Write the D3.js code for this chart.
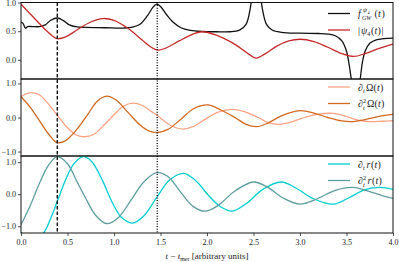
<!DOCTYPE html>
<html>
<head>
<meta charset="utf-8">
<script src="https://cdn.jsdelivr.net/npm/d3@7"></script>
<style>
  body { margin: 0; background: #fff; }
  svg { display: block; }
  text { font-family: "Liberation Serif", "DejaVu Serif", serif; fill: #222; }
</style>
</head>
<body>
<div id="chart"></div>
<script>
// time axis ticks
var xTicks = [0, 0.5, 1, 1.5, 2, 2.5, 3, 3.5, 4];
var markT = [0.39, 1.465]; // dashed, dotted

// top panel: frequency and |psi4|
var fgwT = [0, 0.02, 0.04, 0.05, 0.07, 0.12, 0.2, 0.26, 0.32, 0.39, 0.46, 0.52, 0.6, 0.7, 0.9, 1.1, 1.2, 1.28, 1.36, 1.42, 1.46, 1.5, 1.56, 1.64, 1.72, 1.82, 1.95, 2.1, 2.25, 2.35, 2.42, 2.46, 2.49, 2.51, 2.53, 2.55, 2.57, 2.6, 2.64, 2.7, 2.8, 3.0, 3.2, 3.3, 3.38, 3.45, 3.5, 3.53, 3.56, 3.6, 3.64, 3.67, 3.7, 3.75, 3.82, 3.9, 4.0];
var fgwV = [0.66, 0.64, 0.57, 0.55, 0.58, 0.58, 0.58, 0.61, 0.69, 0.73, 0.68, 0.61, 0.575, 0.565, 0.56, 0.555, 0.57, 0.62, 0.77, 0.92, 0.97, 0.93, 0.8, 0.65, 0.56, 0.515, 0.495, 0.49, 0.49, 0.52, 0.62, 0.85, 1.2, 1.6, 2.0, 1.6, 1.2, 0.85, 0.62, 0.52, 0.48, 0.465, 0.46, 0.45, 0.42, 0.33, 0.15, -0.1, -0.4, -0.6, -0.4, -0.05, 0.15, 0.29, 0.35, 0.37, 0.38];

var psiT = [0, 0.1, 0.2, 0.3, 0.39, 0.48, 0.6, 0.75, 0.88, 1.0, 1.15, 1.3, 1.4, 1.47, 1.55, 1.7, 1.85, 1.95, 2.1, 2.3, 2.45, 2.53, 2.62, 2.75, 2.88, 3.0, 3.15, 3.3, 3.45, 3.58, 3.7, 3.85, 4.0];
var psiV = [0.97, 0.8, 0.63, 0.47, 0.37, 0.4, 0.52, 0.66, 0.72, 0.69, 0.55, 0.35, 0.22, 0.17, 0.2, 0.33, 0.45, 0.49, 0.43, 0.27, 0.1, 0.03, 0.1, 0.24, 0.33, 0.36, 0.32, 0.22, 0.11, 0.06, 0.11, 0.2, 0.275];

// middle panel: derivatives of Omega
var dOmT = [0, 0.06, 0.12, 0.2, 0.3, 0.4, 0.5, 0.6, 0.68, 0.78, 0.9, 1.0, 1.1, 1.2, 1.3, 1.4, 1.47, 1.6, 1.74, 1.85, 2.0, 2.12, 2.27, 2.4, 2.55, 2.65, 2.78, 2.92, 3.05, 3.2, 3.36, 3.5, 3.62, 3.75, 3.88, 4.0];
var dOmV = [0.61, 0.7, 0.73, 0.66, 0.38, 0.03, -0.3, -0.52, -0.565, -0.5, -0.2, 0.08, 0.33, 0.42, 0.36, 0.18, 0.05, -0.22, -0.34, -0.27, -0.02, 0.16, 0.24, 0.17, 0.0, -0.14, -0.2, -0.12, 0.0, 0.1, 0.12, 0.03, -0.08, -0.12, -0.11, -0.09];

var d2OmT = [0, 0.1, 0.2, 0.3, 0.39, 0.48, 0.6, 0.72, 0.82, 0.92, 1.02, 1.15, 1.28, 1.38, 1.47, 1.58, 1.72, 1.85, 2.01, 2.15, 2.3, 2.42, 2.53, 2.65, 2.8, 3.0, 3.15, 3.3, 3.45, 3.57, 3.7, 3.85, 4.0];
var d2OmV = [0.61, 0.3, -0.1, -0.5, -0.74, -0.68, -0.35, 0.1, 0.48, 0.63, 0.52, 0.15, -0.22, -0.4, -0.44, -0.35, -0.05, 0.25, 0.37, 0.22, 0.0, -0.2, -0.27, -0.17, 0.05, 0.2, 0.13, 0.0, -0.1, -0.12, -0.06, 0.03, 0.09];

// bottom panel: derivatives of r
var drT = [0, 0.06, 0.14, 0.24, 0.32, 0.4, 0.48, 0.57, 0.67, 0.76, 0.88, 0.98, 1.08, 1.2, 1.32, 1.46, 1.6, 1.75, 1.88, 2.02, 2.15, 2.27, 2.42, 2.6, 2.8, 2.95, 3.15, 3.36, 3.52, 3.7, 3.86, 4.0];
var drV = [-1.18, -1.35, -1.38, -1.22, -0.75, -0.15, 0.45, 0.95, 1.17, 1.02, 0.4, -0.25, -0.72, -0.9, -0.68, -0.1, 0.45, 0.65, 0.42, -0.05, -0.4, -0.53, -0.3, 0.15, 0.38, 0.2, -0.15, -0.31, -0.12, 0.14, 0.21, 0.15];

var d2rT = [0, 0.1, 0.2, 0.3, 0.39, 0.5, 0.6, 0.7, 0.8, 0.92, 1.04, 1.18, 1.32, 1.46, 1.58, 1.72, 1.85, 1.98, 2.12, 2.3, 2.5, 2.65, 2.82, 3.0, 3.18, 3.38, 3.57, 3.75, 3.9, 4.0];
var d2rV = [-0.95, -0.35, 0.35, 0.92, 1.17, 0.95, 0.4, -0.15, -0.65, -0.92, -0.75, -0.2, 0.38, 0.67, 0.55, 0.05, -0.38, -0.53, -0.35, 0.1, 0.38, 0.22, -0.12, -0.31, -0.15, 0.12, 0.21, 0.08, -0.06, -0.13];

var zip = (t, v) => t.map((d, i) => ({t: d, v: v[i]}));

var W = 399, H = 262;
var x = d3.scaleLinear().domain([0, 4]).range([21, 393]);

var panels = [
  {top: 2.5, bottom: 79, domain: [-0.333, 1.0], ticks: [0, 0.5, 1], legTop: 11,
   series: [
     {data: zip(fgwT, fgwV), color: "#111111"},
     {data: zip(psiT, psiV), color: "#c62828"}
   ],
   legend: ["fgw", "psi"]},
  {top: 79, bottom: 156, domain: [-1.13, 1.13], ticks: [-1, 0, 1], legTop: 8,
   series: [
     {data: zip(dOmT, dOmV), color: "#fca483"},
     {data: zip(d2OmT, d2OmV), color: "#d2691e"}
   ],
   legend: ["dOm", "d2Om"]},
  {top: 156, bottom: 233, domain: [-1.21, 1.19], ticks: [-1, 0, 1], legTop: 8,
   series: [
     {data: zip(drT, drV), color: "#00ced1"},
     {data: zip(d2rT, d2rV), color: "#5f9ea0"}
   ],
   legend: ["dr", "d2r"]}
];

var svg = d3.select("#chart").append("svg")
  .attr("width", W).attr("height", H);

var fmt = d3.format(".1f");

// math-ish legend labels, parts: [text, dx, dy, size, italic]
var labels = {
  fgw: [["f", 0, 0, 10, true], ["ψ", 5, -5, 6.5, true], ["4", 9.5, -3.5, 4.5, false], ["GW", 4, 2.5, 6, true], ["(", 16.5, 0, 10, false], ["t", 20, 0, 10, true], [")", 23.5, 0, 10, false]],
  psi: [["|", 0, 0, 10, false], ["ψ", 3, 0, 10, true], ["4", 9, 2.5, 6.5, false], ["(", 13, 0, 10, false], ["t", 16.5, 0, 10, true], [")", 19.5, 0, 10, false], ["|", 23.5, 0, 10, false]],
  dOm: [["∂", 0, 0, 10, true], ["t", 5, 2.5, 6.5, true], ["Ω", 8, 0, 10, false], ["(", 15.5, 0, 10, false], ["t", 19, 0, 10, true], [")", 22, 0, 10, false]],
  d2Om: [["∂", 0, 0, 10, true], ["2", 5, -4.5, 6.5, false], ["t", 5, 2.5, 6.5, true], ["Ω", 9, 0, 10, false], ["(", 16.5, 0, 10, false], ["t", 20, 0, 10, true], [")", 23, 0, 10, false]],
  dr: [["∂", 0, 0, 10, true], ["t", 5, 2.5, 6.5, true], ["r", 8.5, 0, 10, true], ["(", 13, 0, 10, false], ["t", 16.5, 0, 10, true], [")", 19.5, 0, 10, false]],
  d2r: [["∂", 0, 0, 10, true], ["2", 5, -4.5, 6.5, false], ["t", 5, 2.5, 6.5, true], ["r", 9.5, 0, 10, true], ["(", 14, 0, 10, false], ["t", 17.5, 0, 10, true], [")", 20.5, 0, 10, false]]
};

function mathLabel(g, x0, y0, parts) {
  parts.forEach(function(p) {
    g.append("text")
      .attr("x", x0 + p[1])
      .attr("y", y0 + p[2])
      .attr("font-size", p[3])
      .attr("font-style", p[4] ? "italic" : "normal")
      .text(p[0]);
  });
}

panels.forEach(function(p, pi) {
  var y = d3.scaleLinear().domain(p.domain).range([p.bottom, p.top]);
  var clipId = "clip" + pi;
  svg.append("clipPath").attr("id", clipId)
    .append("rect")
    .attr("x", x(0)).attr("y", p.top)
    .attr("width", x(4) - x(0)).attr("height", p.bottom - p.top);

  var line = d3.line()
    .x(d => x(d.t))
    .y(d => y(d.v))
    .curve(d3.curveCatmullRom.alpha(0.5));

  var g = svg.append("g").attr("clip-path", "url(#" + clipId + ")");
  p.series.forEach(function(s) {
    g.append("path")
      .datum(s.data)
      .attr("fill", "none")
      .attr("stroke", s.color)
      .attr("stroke-width", 1.3)
      .attr("d", line);
  });

  // y axis
  var ya = svg.append("g")
    .attr("transform", "translate(" + x(0) + ",0)")
    .call(d3.axisLeft(y).tickValues(p.ticks).tickFormat(fmt).tickSize(3).tickPadding(2));
  ya.select(".domain").remove();
  ya.selectAll("line").attr("stroke", "#222").attr("stroke-width", 0.8);
  ya.selectAll("text").attr("font-size", 8).attr("font-family", "Liberation Serif, serif").attr("fill", "#333");

  // frame
  svg.append("rect")
    .attr("x", x(0)).attr("y", p.top)
    .attr("width", x(4) - x(0)).attr("height", p.bottom - p.top)
    .attr("fill", "none").attr("stroke", "#111").attr("stroke-width", 1);

  // legend
  var lg = svg.append("g");
  p.series.forEach(function(s, i) {
    var ly = p.top + p.legTop + i * 16.5;
    lg.append("line")
      .attr("x1", 328).attr("x2", 350)
      .attr("y1", ly).attr("y2", ly)
      .attr("stroke", s.color).attr("stroke-width", 1.3);
    mathLabel(lg, 358, ly + 3.5, labels[p.legend[i]]);
  });
});

// vertical markers across all panels
var dashes = ["3.5,2", "1,1.6"];
markT.forEach(function(t, i) {
  svg.append("line")
    .attr("x1", x(t)).attr("x2", x(t))
    .attr("y1", panels[0].top).attr("y2", panels[2].bottom)
    .attr("stroke", "#000").attr("stroke-width", 1.3)
    .attr("stroke-dasharray", dashes[i]);
});

// x axis
var xa = svg.append("g")
  .attr("transform", "translate(0," + panels[2].bottom + ")")
  .call(d3.axisBottom(x).tickValues(xTicks).tickFormat(fmt).tickSize(3).tickPadding(3));
xa.select(".domain").remove();
xa.selectAll("line").attr("stroke", "#222").attr("stroke-width", 0.8);
xa.selectAll("text").attr("font-size", 8).attr("font-family", "Liberation Serif, serif").attr("fill", "#333");

// x label
var xl = svg.append("text")
  .attr("x", 207).attr("y", 259)
  .attr("text-anchor", "middle")
  .attr("font-size", 9);
xl.append("tspan").attr("font-style", "italic").text("t");
xl.append("tspan").text(" − ");
xl.append("tspan").attr("font-style", "italic").text("t");
xl.append("tspan").attr("font-size", 6).attr("dy", 2).text("mer");
xl.append("tspan").attr("dy", -2).text("  [arbitrary units]");
</script>
</body>
</html>
